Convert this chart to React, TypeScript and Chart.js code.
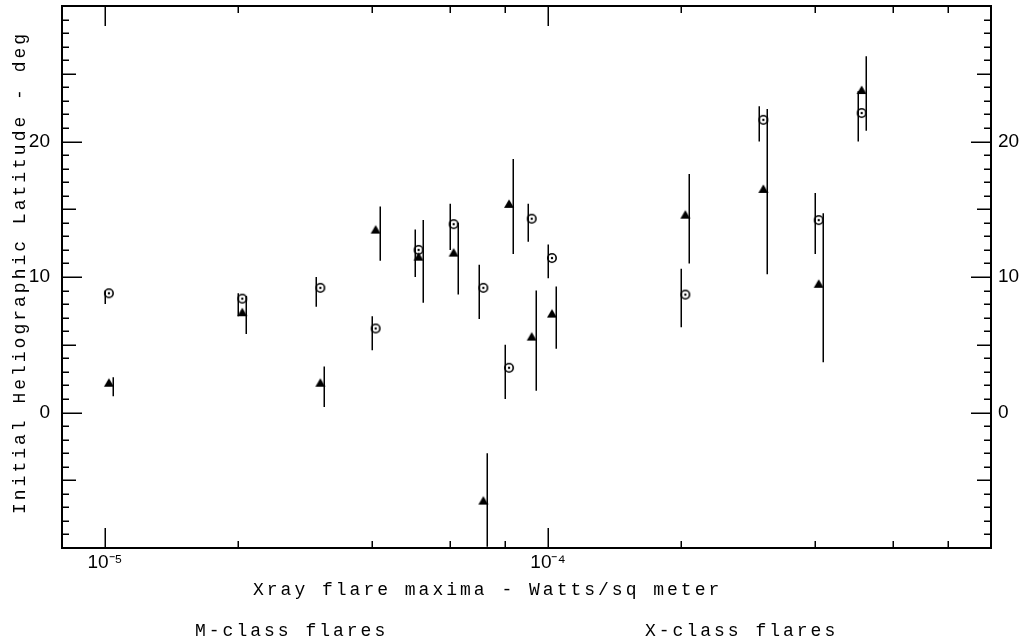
import React, { useEffect, useRef } from "react";
import { Chart, registerables } from "chart.js";

Chart.register(...registerables);

// ---- data ----
const fluxValues = [1e-5, 2e-5, 3e-5, 4e-5, 5e-5, 6e-5, 7e-5, 8e-5, 9e-5, 1e-4, 2e-4, 3e-4, 4e-4, 5e-4];
const circleLat = [8.8, 8.4, 9.2, 6.2, 12.0, 13.9, 9.2, 3.3, 14.3, 11.4, 8.7, 21.6, 14.2, 22.1];
const circleLow = [8.0, 7.1, 7.8, 4.6, 10.0, 12.0, 6.9, 1.0, 12.6, 9.9, 6.3, 20.0, 11.7, 20.0];
const circleHigh = [9.0, 8.8, 10.0, 7.1, 13.5, 15.4, 10.9, 5.0, 15.4, 12.4, 10.6, 22.6, 16.2, 23.7];
const triangleLat = [2.2, 7.4, 2.2, 13.5, 11.5, 11.8, -6.5, 15.4, 5.6, 7.3, 14.6, 16.5, 9.5, 23.8];
const triangleLow = [1.2, 5.8, 0.4, 11.2, 8.1, 8.7, -9.9, 11.7, 1.6, 4.7, 11.0, 10.2, 3.7, 20.8];
const triangleHigh = [2.6, 8.6, 3.4, 15.2, 14.2, 14.0, -3.0, 18.7, 9.0, 9.3, 17.6, 22.4, 14.7, 26.3];

// ---- axes ----
const xMin = 8e-6;
const xMax = 1e-3;
const yMin = -10;
const yMax = 30;
const xLabelValues = [1e-5, 1e-4];
const xLabelTexts = ["10\u207B\u2075", "10\u207B\u2074"];
const xMinorTicks = [2e-5, 4e-5, 6e-5, 8e-5, 2e-4, 4e-4, 6e-4, 8e-4];
const yLabelValues = [0, 10, 20];

const xTitle = "Xray flare maxima - Watts/sq meter";
const yTitle = "Initial Heliographic Latitude - deg";
const noteLeft = "M-class flares";
const noteRight = "X-class flares";

// ---- styles ----
const INK = "#000";
const MARKER_DX = 4; // symbols sit a few px right of their x
const CIRCLE_BAR_DX = 0;
const TRIANGLE_BAR_DX = 8;

function makeCircleImg(): HTMLCanvasElement {
  const c = document.createElement("canvas");
  c.width = 26;
  c.height = 14;
  const g = c.getContext("2d")!;
  const cx = 13 + MARKER_DX;
  const cy = 7;
  g.strokeStyle = INK;
  g.lineWidth = 1.6;
  g.beginPath();
  g.arc(cx, cy, 4.2, 0, Math.PI * 2);
  g.stroke();
  g.fillStyle = INK;
  g.beginPath();
  g.arc(cx, cy, 1.2, 0, Math.PI * 2);
  g.fill();
  return c;
}

function makeTriangleImg(): HTMLCanvasElement {
  const c = document.createElement("canvas");
  c.width = 26;
  c.height = 14;
  const g = c.getContext("2d")!;
  const cx = 13 + MARKER_DX;
  const cy = 7;
  g.fillStyle = INK;
  g.beginPath();
  g.moveTo(cx - 5, cy + 4);
  g.lineTo(cx + 5, cy + 4);
  g.lineTo(cx, cy - 4.5);
  g.closePath();
  g.fill();
  return c;
}

const decorPlugin = {
  id: "decor",
  beforeDatasetsDraw(chart: any) {
    const { ctx } = chart;
    const xs = chart.scales.x;
    const ys = chart.scales.y;
    ctx.save();
    ctx.strokeStyle = INK;
    ctx.lineWidth = 1.5;
    const bar = (xv: number, lo: number, hi: number, dx: number) => {
      const px = Math.round(xs.getPixelForValue(xv)) + dx + 0.25;
      ctx.beginPath();
      ctx.moveTo(px, ys.getPixelForValue(hi));
      ctx.lineTo(px, ys.getPixelForValue(lo));
      ctx.stroke();
    };
    fluxValues.forEach((xv, i) => {
      bar(xv, circleLow[i], circleHigh[i], CIRCLE_BAR_DX);
      bar(xv, triangleLow[i], triangleHigh[i], TRIANGLE_BAR_DX);
    });
    ctx.restore();
  },
  afterDraw(chart: any) {
    const { ctx, chartArea } = chart;
    const { left, right, top, bottom } = chartArea;
    const xs = chart.scales.x;
    const ys = chart.scales.y;
    ctx.save();
    ctx.strokeStyle = INK;
    // frame
    ctx.lineWidth = 2;
    ctx.strokeRect(left, top, right - left, bottom - top);
    // y ticks (both sides, inward)
    ctx.lineWidth = 1.5;
    for (let v = yMin + 1; v < yMax; v++) {
      const len = v % 10 === 0 ? 20 : v % 5 === 0 ? 14 : 7;
      const py = Math.round(ys.getPixelForValue(v)) + 0.25;
      ctx.beginPath();
      ctx.moveTo(left, py);
      ctx.lineTo(left + len, py);
      ctx.moveTo(right, py);
      ctx.lineTo(right - len, py);
      ctx.stroke();
    }
    // x ticks (bottom and top, inward)
    const xTick = (v: number, len: number) => {
      const px = Math.round(xs.getPixelForValue(v)) + 0.25;
      ctx.beginPath();
      ctx.moveTo(px, bottom);
      ctx.lineTo(px, bottom - len);
      ctx.moveTo(px, top);
      ctx.lineTo(px, top + len);
      ctx.stroke();
    };
    xLabelValues.forEach((v) => xTick(v, 20));
    xMinorTicks.forEach((v) => xTick(v, 7));

    // titles
    ctx.fillStyle = INK;
    ctx.font = '18px "Liberation Mono", "DejaVu Sans Mono", monospace';
    try {
      (ctx as any).letterSpacing = "3px";
    } catch (e) {}
    ctx.textAlign = "left";
    ctx.textBaseline = "middle";
    ctx.fillText(xTitle, 253, 590);
    ctx.fillText(noteLeft, 195, 631);
    ctx.fillText(noteRight, 645, 631);
    ctx.save();
    ctx.translate(20, 514);
    ctx.rotate(-Math.PI / 2);
    ctx.fillText(yTitle, 0, 0);
    ctx.restore();
    try {
      (ctx as any).letterSpacing = "0px";
    } catch (e) {}
    ctx.restore();
  },
};

const noPad = (s: any) => {
  s.paddingTop = 0;
  s.paddingBottom = 0;
  s.paddingLeft = 0;
  s.paddingRight = 0;
};

export default function App() {
  const canvasRef = useRef<HTMLCanvasElement | null>(null);

  useEffect(() => {
    const canvas = canvasRef.current;
    if (!canvas) return;
    const circleImg = makeCircleImg();
    const triangleImg = makeTriangleImg();
    const tickFont = { family: '"Liberation Sans", Arial, sans-serif', size: 19 };

    const chart = new Chart(canvas, {
      type: "scatter",
      data: {
        datasets: [
          {
            label: "circle",
            data: fluxValues.map((x, i) => ({ x, y: circleLat[i] })),
            pointStyle: circleImg as any,
            pointRadius: 5,
            showLine: false,
            yAxisID: "y",
          },
          {
            label: "triangle",
            data: fluxValues.map((x, i) => ({ x, y: triangleLat[i] })),
            pointStyle: triangleImg as any,
            pointRadius: 5,
            showLine: false,
            yAxisID: "y",
          },
        ],
      },
      plugins: [decorPlugin],
      options: {
        animation: false,
        responsive: false,
        devicePixelRatio: 1,
        layout: { padding: { top: 5, left: 0, right: 0, bottom: 0 } },
        plugins: {
          legend: { display: false },
          tooltip: { enabled: false },
          title: { display: false },
        },
        scales: {
          x: {
            type: "logarithmic",
            position: "bottom",
            min: xMin,
            max: xMax,
            grid: { display: false, drawTicks: false },
            border: { display: false },
            afterBuildTicks: (s: any) => {
              s.ticks = xLabelValues.map((value) => ({ value }));
            },
            afterFit: (s: any) => {
              s.height = 96;
              noPad(s);
            },
            ticks: {
              autoSkip: false,
              maxRotation: 0,
              padding: 3,
              color: INK,
              font: tickFont,
              callback: (v: any) => {
                const i = xLabelValues.findIndex((t) => Math.abs(t - Number(v)) / t < 1e-6);
                return i >= 0 ? xLabelTexts[i] : "";
              },
            },
          },
          y: {
            type: "linear",
            position: "left",
            min: yMin,
            max: yMax,
            grid: { display: false, drawTicks: false },
            border: { display: false },
            afterBuildTicks: (s: any) => {
              s.ticks = yLabelValues.map((value) => ({ value }));
            },
            afterFit: (s: any) => {
              s.width = 62;
              noPad(s);
            },
            ticks: { padding: 12, color: INK, font: tickFont, autoSkip: false },
          },
          y2: {
            type: "linear",
            position: "right",
            min: yMin,
            max: yMax,
            grid: { display: false, drawTicks: false },
            border: { display: false },
            afterBuildTicks: (s: any) => {
              s.ticks = yLabelValues.map((value) => ({ value }));
            },
            afterFit: (s: any) => {
              s.width = 41;
              noPad(s);
            },
            ticks: { padding: 7, color: INK, font: tickFont, autoSkip: false },
          },
        },
      } as any,
    });
    return () => chart.destroy();
  }, []);

  return (
    <div style={{ position: "fixed", left: 0, top: 0, width: 1032, height: 644, background: "#fff" }}>
      <canvas ref={canvasRef} width={1032} height={644} style={{ display: "block" }} />
    </div>
  );
}
